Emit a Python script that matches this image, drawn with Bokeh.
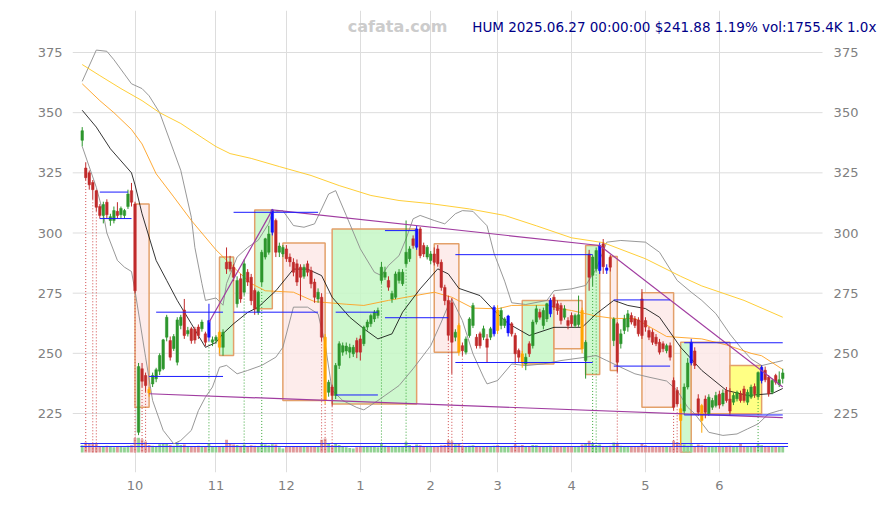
from bokeh.plotting import figure
from bokeh.models import Range1d, FixedTicker, Label
from bokeh.embed import file_html
from bokeh.resources import INLINE

# ---------------- data ----------------
opens = [338.5, 327, 325, 321, 317.6, 311, 307.3, 312.8, 305.2, 305.2, 309, 307.6, 307.3, 311, 317.6,
         312, 217.2, 243.6, 240.8, 235, 237.3, 239.4, 242.6, 243.6, 256.7, 255.3, 252, 246.3, 261.6, 268, 258.1, 260.2, 260, 260.9, 260.2, 258.1, 256.7, 254.6,
         255.3, 258.8, 252.5, 287.8, 288, 285.8, 270.6, 281, 275.4, 283.7, 281.6, 276.1, 267.1, 279.6, 290, 292, 300.3, 305.2, 292, 291.3,
         293.4, 290, 287.8, 287.2, 285.8, 282, 287.2, 284.4, 279.6, 272.6, 273.3, 256.7, 233.8, 236, 232.5, 245, 250.5, 251, 250.5, 249.8, 255.3,
         256, 254, 260.9, 262.3, 264.3, 265.7, 280.3, 281.6, 280.3, 272.6, 273.3, 280.3, 278.9, 287.2, 289.3, 297.6, 294.1, 301.7, 294.8, 290,
         288.6, 291.3, 293.4, 287.8, 277.4, 272, 271, 256.7, 261.6, 253.2, 250.5, 257.4, 261.6, 256.7, 258.1, 256.7, 256, 256.7, 258.1,
         268, 261.6, 261.6, 258.5, 262.3, 257.4, 251.2, 249.8, 245.6, 254, 253.2, 263, 267.1, 261.6, 264.3, 266.4, 273.3, 270.6, 269.9, 265, 263.6,
         265.7, 261.6, 262, 267.8, 247, 291.3, 282.4, 285.1, 284.4, 295.5, 284.5, 289.9, 255.3, 262.3, 254, 259.5, 260.9, 265.7, 264.3, 263.9, 272.6,
         263.6, 259.5, 258.8, 256.7, 254.6, 254, 251.1, 253.2, 238.7, 234.6, 227, 226, 236, 246, 251, 231.1, 228.3, 231, 224.9, 227.6, 228.3,
         233, 229, 234.6, 231, 229.7, 231.1, 233.2, 235.2, 229.7, 231.8, 236.2, 232, 238.7, 243, 240.1, 233.8, 240.8, 237, 239.5]
highs = [344, 329.4, 326, 322, 318, 312, 313, 314, 308, 311, 312.8, 311, 310, 318, 320.8,
         313, 246, 246, 242, 236, 242, 244, 250, 256, 266, 257, 258, 265, 266, 272.6, 261, 261, 261, 262, 264, 259, 270.6, 257,
         257.5, 259.5, 260, 294, 290.5, 287, 282, 283, 289, 285, 283, 277, 276, 293, 298, 303, 310, 306, 296, 295,
         295, 291.5, 289.5, 289, 287, 287, 288.5, 286, 281, 277, 275, 258, 239, 237, 246, 255, 254.5, 254.5, 254, 253.5, 256.5,
         257.5, 261.5, 264, 266.5, 268, 269, 288, 286, 282, 276, 284, 285, 285, 305.2, 294.5, 299, 303, 302.5, 296, 295,
         292.5, 294, 295, 289, 278.5, 274, 273, 260, 262.5, 254.5, 257, 265, 271, 258, 259, 261.5, 258, 261, 270,
         270, 269, 265, 266, 263, 258.5, 252, 251, 250, 255, 264, 270, 268.5, 269, 271, 273, 274.5, 272, 271, 270, 265,
         267, 266.5, 274, 269, 255.5, 293, 291, 294, 296, 297.5, 287, 291, 265, 263, 260, 266, 268, 267, 265.5, 265, 276.7,
         265, 261, 260, 258, 256, 255, 254, 254.5, 240, 236, 229, 237.5, 248, 256, 252.5, 233, 229, 232.5, 233, 231.5, 234,
         234.5, 235, 236, 235.5, 233.5, 234.5, 234.5, 236.5, 235, 237, 237.5, 242.5, 245, 244.5, 241, 239.5, 241.5, 242.5, 243.6]
lows = [336, 322, 318, 314, 309, 306, 304, 306, 303, 304, 306, 306, 306, 310, 311,
        275, 216, 236, 234, 232, 236, 238, 241, 243, 255, 247, 251, 245, 260, 256, 257, 254, 254, 256, 259, 253, 255, 253,
        254, 250, 249, 283, 284, 280, 269, 271, 274, 278, 270, 266, 266, 278, 289, 291, 299, 290, 290, 290,
        288, 286, 282, 278, 272, 281, 282, 277, 271, 271, 255, 229, 232, 228, 231, 243.5, 249, 249.5, 248, 248.5, 248,
        247, 253, 259.5, 261, 263, 264.5, 279, 280.5, 276, 271, 272.5, 279, 278, 286, 288, 293.5, 293, 289.5, 290, 289,
        287, 286.5, 286, 276, 270, 255.5, 241.5, 255, 249, 249, 249.5, 256.5, 260.5, 252, 252, 255.5, 246, 255.5, 257,
        258, 260, 260.5, 257, 257, 246, 246, 244, 243, 248.5, 252, 262, 264, 260, 263, 265, 268, 266, 262, 264, 260,
        261, 260.5, 261, 250, 239.5, 276, 278, 284, 283, 283, 283, 284, 253, 242, 252, 258, 259, 262, 260.5, 257, 256,
        259, 255.5, 253.5, 253, 249.5, 250.5, 250, 247, 226.5, 228, 212, 224.5, 235, 245, 243.5, 224, 217, 223, 224, 226.5, 227.5,
        227, 228, 229.5, 224.5, 228.5, 230, 229.5, 229.5, 228.5, 231, 231.5, 231, 237.5, 238, 232, 233, 237, 236, 237.5]
closes = [342.5, 323, 320, 318, 310.7, 307.3, 311.8, 307.6, 306.8, 309.3, 307.3, 310.2, 309.3, 316.2, 312.8,
          276, 244.5, 238.4, 236.6, 233.5, 240.8, 243.2, 249.1, 255.6, 265, 248.4, 257, 263.9, 265, 257.4, 259.5, 255.3, 255.5, 257.4, 263, 254.6, 263.6, 255.6,
          256.7, 252.5, 258.8, 285.1, 285, 281.6, 280.3, 272.6, 287.2, 279.6, 271.9, 268.5, 275.4, 292, 297.6, 299.6, 309.6, 292, 294.6, 294,
          289.3, 288, 283.7, 279.6, 281.6, 285.8, 283.7, 278.9, 273.3, 275.4, 256.7, 230.4, 238, 232.5, 245, 254, 253.2, 253, 252.5, 252.5, 250.5,
          250.5, 260.9, 263, 265.7, 267.1, 267.8, 285.8, 283.7, 277.5, 274.9, 283, 283.7, 283.7, 292, 293.4, 294.8, 301.7, 290.6, 291.3, 294.1,
          291.3, 287.8, 287.2, 277.4, 271.9, 257.5, 254.6, 258.8, 250.5, 251.1, 256, 264.3, 269.9, 253.2, 253.2, 260.2, 252.5, 260.2, 269.2,
          259.5, 267.8, 264.3, 265.5, 258.1, 249.8, 248.4, 246.3, 248.4, 249.8, 263, 268.5, 265, 267.8, 270.6, 272, 269.2, 267.8, 263.6, 268.5, 261.6,
          262.3, 265.7, 266, 251.9, 254.6, 281.6, 290, 292.7, 294.8, 286, 285.5, 285.8, 264.3, 246.3, 258.1, 264.3, 266.4, 263, 261.6, 258.1, 257.4,
          260.9, 256.7, 254.6, 254, 250.5, 251.9, 253.2, 248.4, 227.6, 229, 222.1, 236, 246, 254.6, 245, 225.5, 222.1, 225.5, 231.8, 230.4, 232.5,
          228.5, 233.5, 230.4, 226, 232.5, 233.8, 230.4, 230.4, 233.8, 236, 233.2, 242, 244.2, 239, 233.2, 238.7, 238, 239.04, 241.88]
volumes_k = [2100, 2900, 2600, 2700, 2500, 1900, 1700, 2000, 1600, 1500, 1700, 1600, 1500, 2000, 2100,
             4200, 4300, 3900, 3200, 2200, 2000, 1900, 2400, 2600, 2700, 2200, 2000, 2900, 2200, 2300, 1800, 1900, 1700, 2000, 1800, 1900, 2700, 1900,
             1700, 1800, 1900, 3700, 2800, 2300, 2200, 2000, 2300, 1800, 2100, 2000, 1900, 2500, 2300, 2100, 2400, 2300, 1500, 1200,
             1900, 1700, 1800, 1700, 1900, 1600, 1800, 1700, 1900, 1600, 3700, 4100, 2600, 2100, 2500, 2200, 1800, 1500, 1300, 1200, 1500,
             1700, 1800, 1600, 1700, 1600, 1500, 2600, 2000, 1700, 1600, 1900, 1800, 1700, 3100, 2200, 1900, 2300, 2100, 1700, 1600,
             1800, 1700, 1900, 2100, 2200, 3600, 3300, 2400, 2700, 2000, 1900, 2000, 2100, 1800, 1700, 1800, 1900, 1700, 2000,
             2100, 1900, 1700, 1800, 1700, 2300, 2000, 2200, 1900, 1800, 2200, 2100, 1700, 1800, 1900, 2000, 1700, 1800, 1900, 1700, 1800,
             1700, 1800, 1900, 2300, 2600, 3400, 2600, 2200, 2300, 1900, 1800, 2000, 2900, 2600, 2000, 1800, 1700, 1600, 1700, 1800, 2600,
             2100, 1900, 1800, 1700, 1900, 1800, 1700, 1900, 3400, 3000, 2700, 2300, 2000, 2400, 1900, 2300, 2100, 1900, 1800, 1700, 1800,
             1700, 1800, 1900, 2000, 1800, 1700, 2600, 1900, 1800, 1700, 1900, 2300, 2100, 1800, 1900, 1700, 1800, 1600, 1755.4]
vol_ref_k = [1755.4, 2633.1]

special_candles = {19: "orange", 36: "blue", 39: "orange", 54: "blue", 69: "orange", 95: "blue",
                   107: "orange", 117: "blue", 118: "orange", 121: "blue", 125: "orange", 133: "blue",
                   142: "orange", 147: "blue", 149: "blue", 170: "orange", 173: "blue", 176: "orange", 193: "blue"}

month_idx = [15, 38, 58, 79, 99, 118, 139, 160, 181]
month_lbl = ["10", "11", "12", "1", "2", "3", "4", "5", "6"]
price_ticks = [225, 250, 275, 300, 325, 350, 375]

black_idx = [0, 4, 8, 14, 15, 17, 21, 24, 27, 31, 35, 38, 40, 43, 47, 50, 55, 60, 64, 68, 71, 76, 80, 84, 88, 91, 96, 101, 104, 107,
             113, 117, 121, 127, 134, 142, 146, 151, 155, 160, 164, 170, 176, 183, 189, 196, 199]
black_val = [351, 344, 335, 325, 320, 308, 288.6, 280.3, 272, 262.3, 252.5, 254.5, 258.2, 262.3, 267, 269.2, 276, 285, 285, 282.3,
             273.3, 265, 260.2, 256, 258.1, 267.1, 276.8, 285.1, 283, 277, 274, 267.8, 262.4, 257.4, 260.8, 260.8, 266.4, 272, 269.9, 268.6,
             265, 252.5, 242.9, 234.6, 232.5, 233.3, 235.4]
bb_up_idx = [0, 4, 7, 9, 12, 14, 17, 19, 22, 26, 28, 31, 32, 34, 35, 38, 40, 41, 44, 47, 50, 53, 54, 57, 60, 63, 66, 68, 70, 72,
             75, 79, 83, 85, 87, 90, 92, 94, 96, 100, 103, 106, 108, 111, 115, 117, 120, 122, 126, 132, 134, 139, 143, 146, 149, 153,
             160, 164, 169, 173, 176, 180, 184, 187, 190, 193, 197, 199]
bb_up_val = [363, 376, 375.5, 372, 366, 362, 360, 357, 350, 334, 326, 306.5, 294, 279, 272, 273, 270, 279, 290, 294, 297, 304, 308.6,
             309.3, 303.1, 302.4, 303.8, 310, 316.2, 317.6, 307.3, 293.4, 283.7, 282.3, 286.5, 290.6, 297.6, 305.9, 307.3, 305.2, 303.8,
             308, 309.3, 309, 303, 291.5, 280, 271, 270.3, 272, 276, 276.8, 278.2, 285, 296.2, 296.9, 296.2, 292, 280.3, 275.4, 272,
             266.5, 258, 252.5, 247.7, 244.9, 246.3, 247]
bb_lo_idx = [0, 4, 6, 7, 10, 12, 14, 15, 18, 20, 23, 26, 28, 31, 33, 35, 37, 39, 41, 44, 47, 51, 55, 57, 60, 64, 67, 69, 71, 74,
             78, 80, 84, 90, 94, 99, 102, 104, 105, 108, 111, 114, 115, 118, 122, 126, 131, 136, 143, 146, 149, 153, 157, 161, 166,
             169, 172, 174, 178, 182, 186, 189, 192, 195, 198, 199]
bb_lo_val = [336, 319, 308, 300, 288.6, 285.8, 284, 276, 248.4, 230.4, 218, 212.4, 213.8, 218, 226.2, 231.8, 236, 244.2, 245, 241.5,
             242.9, 245, 248.4, 252.5, 269.2, 269.2, 266.4, 254, 234.6, 230.4, 227.5, 226.5, 230.4, 236.6, 243.6, 253.2, 263, 270,
             272.6, 263.6, 249.8, 240.1, 237.3, 238.7, 245.6, 244.9, 245.6, 247, 248.4, 249.1, 247, 244.2, 241.5, 240.1, 238.5,
             234.6, 227.6, 224.9, 217.2, 215.9, 216.5, 218.6, 220.7, 224.9, 226.2, 226.5]
orange_idx = [0, 5, 9, 14, 17, 21, 26, 31, 38, 44, 48, 52, 60, 66, 75, 80, 87, 92, 100, 105, 111, 118, 122, 132, 136, 139, 146,
              151, 157, 166, 176, 183, 190, 193, 199]
orange_val = [362, 355, 350, 343, 337, 324.6, 315, 305.2, 293, 284.4, 279, 276, 275.4, 271.5, 270.4, 269.9, 272, 273.3, 275.4,
              273.3, 268.8, 268.5, 269.9, 270, 268.5, 267.8, 265.5, 264.5, 264.5, 257, 256, 253.5, 250, 249, 243.3]
yellow_idx = [0, 5, 11, 17, 22, 28, 34, 38, 42, 48, 56, 65, 73, 82, 90, 99, 110, 120, 129, 139, 148, 160, 170, 176, 188, 199]
yellow_val = [370, 365.4, 360, 355, 350, 345.5, 339.7, 335.9, 333, 331, 327.6, 323.9, 319.7, 315.6, 313.5, 312.2, 310, 307.3,
              303, 298, 296, 289.3, 282, 278, 272, 265]

trend_x0 = [36, 54, 147, 19]
trend_y0 = [262.8, 309.6, 294.8, 233.2]
trend_x1 = [54, 147, 199, 199]
trend_y1 = [309.6, 294.8, 236, 223.3]

hl_x0 = [5, 5, 21, 19, 43, 43, 72, 72, 86, 86, 106, 106, 151, 151, 171, 171]
hl_x1 = [13, 14, 40, 40, 67, 67, 84, 84, 95, 104, 145, 145, 167, 167, 199, 199]
hl_val = [317, 306, 267.1, 240.4, 308.6, 267.1, 267.1, 232.7, 301, 264.8, 291, 246.2, 272.2, 244.7, 254.4, 224.4]

red_sig = [1, 3, 4, 15, 17, 18, 68, 69, 71, 104, 105, 108, 123, 152, 168, 169]
green_sig = [36, 46, 51, 85, 92, 145, 146, 192]

box_l = [15, 39, 49, 57, 71, 100, 125, 134, 143, 150, 159, 170, 173, 184]
box_r = [19, 43, 54, 69, 95, 107, 134, 142, 147, 152, 168, 173, 184, 193]
box_t = [312.1, 290, 309.6, 295.8, 301.7, 295.5, 272, 272, 294.8, 290.2, 275.2, 254.6, 254.6, 244.9]
box_b = [227.6, 249.1, 268.5, 230.4, 229, 250.5, 245.6, 251.9, 241.2, 242.9, 227.6, 209, 224.9, 224.9]
box_kind = ["down", "up", "up", "down", "up", "down", "up", "down", "up", "down", "down", "up", "down", "flat"]

ticker_name = "HUM"
last_stamp = "2025.06.27 00:00:00"

# ---------------- layout constants ----------------
X_START, X_END = -2.76, 226.2        # visible index range (frame extends under the header text)
GRID_END = 210.3                      # where the price grid / price scale ends
RIGHT_LABEL_X = 213.45                # right-hand price labels
Y_START, Y_END = 200.49, 392.45
VOL_START, VOL_END = -5840.0, 129064.0

GREEN = "#2d962d"
RED = "#c02a2a"
SPECIAL = {"blue": "#1010ff", "orange": "#ffa500"}
BOX_FILL = {"up": "#c6f7c6", "down": "#fde9e7", "flat": "#ffff6e"}

n = len(closes)
idx = list(range(n))
colors = []
for i in idx:
    if i in special_candles:
        colors.append(SPECIAL[special_candles[i]])
    elif closes[i] >= opens[i]:
        colors.append(GREEN)
    else:
        colors.append(RED)
vol_colors = ["#93d293" if closes[i] >= opens[i] else "#e09a9a" for i in idx]
base_price = Y_START + (0 - VOL_START) / (VOL_END - VOL_START) * (Y_END - Y_START)

p = figure(width=878, height=503, output_backend="svg", toolbar_location=None,
           x_range=Range1d(X_START, X_END), y_range=Range1d(Y_START, Y_END),
           min_border_left=72, min_border_right=0, min_border_top=10, min_border_bottom=31)
p.extra_y_ranges = {"vol": Range1d(VOL_START, VOL_END)}
p.outline_line_color = None
p.background_fill_color = "white"

# price grid limited to the chart part
p.ygrid.visible = False
p.segment(x0=[X_START] * len(price_ticks), y0=price_ticks, x1=[GRID_END] * len(price_ticks), y1=price_ticks,
          line_color="#dddddd", line_width=1)

# boxes
p.quad(left=box_l, right=box_r, top=box_t, bottom=box_b,
       fill_color=[BOX_FILL[k] for k in box_kind], fill_alpha=0.85,
       line_color="#e3a06a", line_width=1.5)

# volume
p.vbar(x=idx, width=0.8, top=volumes_k, bottom=0, y_range_name="vol",
       fill_color=vol_colors, line_color=None)
for v in vol_ref_k:
    p.line(x=[-0.5, n + 0.5], y=[v, v], y_range_name="vol", line_color="#2a2aff", line_width=1.2)

# dotted signal lines
p.segment(x0=red_sig, y0=[lows[i] for i in red_sig], x1=red_sig, y1=[base_price] * len(red_sig),
          line_color="#d04a4a", line_dash="1 2", line_width=1)
p.segment(x0=green_sig, y0=[lows[i] for i in green_sig], x1=green_sig, y1=[base_price] * len(green_sig),
          line_color="#3aa63a", line_dash="1 2", line_width=1)

# bands and averages
p.line(bb_up_idx, bb_up_val, line_color="#8c8c8c", line_width=0.9)
p.line(bb_lo_idx, bb_lo_val, line_color="#8c8c8c", line_width=0.9)
p.line(yellow_idx, yellow_val, line_color="#ffc820", line_width=0.9)
p.line(orange_idx, orange_val, line_color="#ffa020", line_width=0.9)
p.line(black_idx, black_val, line_color="black", line_width=0.8)

# candles
body_top = [max(o, c) for o, c in zip(opens, closes)]
body_bot = [min(o, c) for o, c in zip(opens, closes)]
p.segment(x0=idx, y0=lows, x1=idx, y1=highs, line_color=colors, line_width=1)
p.vbar(x=idx, width=0.72, top=body_top, bottom=body_bot, fill_color=colors, line_color=colors, line_width=0.5)

# trend lines and levels
p.segment(x0=trend_x0, y0=trend_y0, x1=trend_x1, y1=trend_y1, line_color="#a03ca0", line_width=1.2)
p.segment(x0=hl_x0, y0=hl_val, x1=hl_x1, y1=hl_val, line_color="#1a1aff", line_width=1)

# axes
p.xaxis.ticker = FixedTicker(ticks=month_idx)
p.xaxis.major_label_overrides = {m: s for m, s in zip(month_idx, month_lbl)}
p.yaxis.ticker = FixedTicker(ticks=price_ticks)
for ax in [p.xaxis[0], p.yaxis[0]]:
    ax.axis_line_color = None
    ax.major_tick_line_color = None
    ax.minor_tick_line_color = None
    ax.major_tick_out = 0
    ax.major_tick_in = 0
    ax.minor_tick_out = 0
    ax.major_label_text_color = "#808080"
    ax.major_label_text_font = "DejaVu Sans"
    ax.major_label_text_font_size = "13px"
p.xaxis[0].major_label_standoff = 8
p.yaxis[0].major_label_standoff = 10
p.xgrid.ticker = FixedTicker(ticks=month_idx)
p.xgrid.grid_line_color = "#dddddd"

# right-hand price scale labels
p.text(x=[RIGHT_LABEL_X] * len(price_ticks), y=price_ticks, text=[str(t) for t in price_ticks],
       text_color="#808080", text_font_size="13px", text_align="left", text_baseline="middle",
       text_font={"value": "DejaVu Sans"})

# header texts
pct = (closes[-1] / closes[-2] - 1) * 100
title_txt = "%s %s $%.2f %.2f%% vol:%.1fK %.1fx" % (ticker_name, last_stamp, closes[-1], pct, volumes_k[-1],
                                                   volumes_k[-1] / vol_ref_k[0])
p.add_layout(Label(x=89.6, y=385.8, text="cafata.com", text_color="#cccccc", text_font="DejaVu Sans",
                   text_font_style="bold", text_font_size="16px", text_align="center", text_baseline="middle"))
p.add_layout(Label(x=225.6, y=385.8, text=title_txt, text_color="#000088", text_font="DejaVu Sans",
                   text_font_size="13.5px", text_align="right", text_baseline="middle"))

open("out.html", "w").write(file_html(p, INLINE))
